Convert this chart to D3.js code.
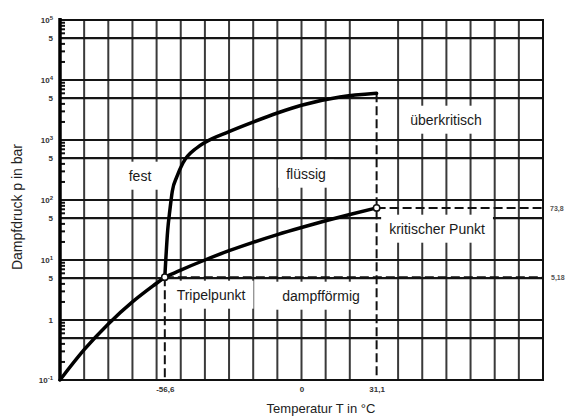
<!DOCTYPE html>
<html>
<head>
<meta charset="utf-8">
<script src="https://cdn.jsdelivr.net/npm/d3@7"></script>
<style>
  body { margin: 0; background: #fff; }
  svg { display: block; font-family: "Liberation Sans", Arial, sans-serif; }
</style>
</head>
<body>
<div id="chart"></div>
<script>
// CO2 phase diagram (Dampfdruck vs Temperatur)

// sublimation curve (fest / dampfförmig)
const sublimTemps = [-100, -90, -80, -70, -60, -56.6];
const sublimPress = [0.1, 0.32, 0.86, 2.0, 4.1, 5.18];

// vapour pressure curve (flüssig / dampfförmig)
const vapTemps = [-56.6, -50, -40, -30, -20, -10, 0, 10, 20, 31.1];
const vapPress = [5.18, 6.8, 10, 14.3, 19.7, 26.5, 34.8, 45, 57.3, 73.8];

// melting curve (fest / flüssig)
const meltTemps = [-56.6, -55.4, -54.5, -53.5, -51.6, -49.1, -43.4, -40, -30, -20, -10, 0, 15.9, 31.1];
const meltPress = [5.18, 31.6, 68, 140, 245, 414, 736, 912, 1380, 1995, 2820, 3800, 5210, 6000];

const triplePoint = [-56.6, 5.18];
const criticalPoint = [31.1, 73.8];

const tempTicks = [-56.6, 0, 31.1];
const tempTickLabels = ['-56,6', '0', '31,1'];

const pressGrid = [0.1, 0.5, 1, 5, 10, 50, 100, 500, 1000, 5000, 10000, 50000, 100000];
const pressLabels = [['10', '-1'], null, ['1'], ['5'], ['10', '1'], ['5'], ['10', '2'], ['5'],
  ['10', '3'], ['5'], ['10', '4'], ['5'], ['10', '5']];

const tempGrid = [-90, -80, -70, -60, -50, -40, -30, -20, -10, 0, 10, 20, 40, 50, 60, 70, 80, 90];

const regionNames = ['fest', 'flüssig', 'überkritisch', 'kritischer Punkt', 'Tripelpunkt', 'dampfförmig'];

const W = 566;
const H = 417;
const plot = { left: 60, right: 543, top: 20, bottom: 380 };

const svg = d3.select('#chart')
  .append('svg')
  .attr('width', W)
  .attr('height', H);

const x = d3.scaleLinear().domain([-100, 100]).range([plot.left, plot.right]);
const y = d3.scaleLog().domain([0.1, 100000]).range([plot.bottom, plot.top]);

// vertical grid
svg.append('g')
  .selectAll('line')
  .data(tempGrid)
  .join('line')
  .attr('x1', d => x(d)).attr('x2', d => x(d))
  .attr('y1', plot.top).attr('y2', plot.bottom)
  .attr('stroke', '#3a3a3a')
  .attr('stroke-width', 2);

// horizontal grid
svg.append('g')
  .selectAll('line')
  .data(pressGrid)
  .join('line')
  .attr('x1', plot.left).attr('x2', plot.right)
  .attr('y1', d => y(d)).attr('y2', d => y(d))
  .attr('stroke', '#151515')
  .attr('stroke-width', 2.2);

// minor ticks on the left axis
const minor = [];
for (let e = -1; e < 5; e++) {
  [2, 3, 4, 6, 7, 8, 9].forEach(m => minor.push(m * Math.pow(10, e)));
}
svg.append('g')
  .selectAll('line')
  .data(minor)
  .join('line')
  .attr('x1', plot.left).attr('x2', plot.left + 5)
  .attr('y1', d => y(d)).attr('y2', d => y(d))
  .attr('stroke', '#111')
  .attr('stroke-width', 2);

// frame
svg.append('rect')
  .attr('x', plot.left).attr('y', plot.top)
  .attr('width', plot.right - plot.left).attr('height', plot.bottom - plot.top)
  .attr('fill', 'none')
  .attr('stroke', '#111')
  .attr('stroke-width', 2);
svg.append('line')
  .attr('x1', plot.left).attr('x2', plot.left)
  .attr('y1', plot.top - 2).attr('y2', plot.bottom + 1)
  .attr('stroke', '#000')
  .attr('stroke-width', 3.5);

// dashed helper lines
const dash = svg.append('g')
  .attr('stroke', '#111')
  .attr('stroke-width', 2)
  .attr('stroke-dasharray', '9,4');
dash.append('line')
  .attr('x1', x(triplePoint[0])).attr('x2', x(triplePoint[0]))
  .attr('y1', y(triplePoint[1])).attr('y2', plot.bottom);
dash.append('line')
  .attr('x1', x(criticalPoint[0])).attr('x2', x(criticalPoint[0]))
  .attr('y1', y(meltPress[meltPress.length - 1])).attr('y2', plot.bottom);
dash.append('line')
  .attr('x1', x(triplePoint[0])).attr('x2', plot.right)
  .attr('y1', y(triplePoint[1])).attr('y2', y(triplePoint[1]));
dash.append('line')
  .attr('x1', x(criticalPoint[0])).attr('x2', plot.right)
  .attr('y1', y(criticalPoint[1])).attr('y2', y(criticalPoint[1]));

// phase curves
const line = d3.line()
  .x(d => x(d[0]))
  .y(d => y(d[1]))
  .curve(d3.curveMonotoneX);

[[sublimTemps, sublimPress], [vapTemps, vapPress], [meltTemps, meltPress]].forEach(([ts, ps]) => {
  svg.append('path')
    .datum(ts.map((t, i) => [t, ps[i]]))
    .attr('d', line)
    .attr('fill', 'none')
    .attr('stroke', '#000')
    .attr('stroke-width', 3.5)
    .attr('stroke-linecap', 'round')
    .attr('stroke-linejoin', 'round');
});

// points
svg.append('g')
  .selectAll('circle')
  .data([triplePoint, criticalPoint])
  .join('circle')
  .attr('cx', d => x(d[0]))
  .attr('cy', d => y(d[1]))
  .attr('r', 3.2)
  .attr('fill', '#fff')
  .attr('stroke', '#111')
  .attr('stroke-width', 1.5);

// x tick labels
const xAxis = svg.append('g')
  .attr('transform', `translate(0, ${plot.bottom})`)
  .call(d3.axisBottom(x).tickValues(tempTicks).tickSize(0).tickPadding(6)
    .tickFormat((d, i) => tempTickLabels[i]));
xAxis.select('.domain').remove();
xAxis.selectAll('text')
  .attr('font-family', '"Liberation Sans", Arial, sans-serif')
  .attr('font-size', 8)
  .attr('font-weight', 'bold')
  .attr('fill', '#333');

// y tick labels (with superscripts)
const yl = svg.append('g');
pressGrid.forEach((p, i) => {
  const lab = pressLabels[i];
  if (!lab) return;
  const t = yl.append('text')
    .attr('x', 53)
    .attr('y', y(p) + 3)
    .attr('text-anchor', 'end')
    .attr('font-size', 8)
    .attr('font-weight', 'bold')
    .attr('fill', '#333');
  t.append('tspan').text(lab[0]);
  if (lab[1]) {
    t.append('tspan').attr('dy', -3).attr('font-size', 6).text(lab[1]);
  }
});

// right side values
svg.append('text')
  .attr('x', plot.right + 7).attr('y', y(criticalPoint[1]) + 3)
  .attr('font-size', 7).attr('font-weight', 'bold').attr('fill', '#555')
  .text('73,8');
svg.append('text')
  .attr('x', plot.right + 8).attr('y', y(triplePoint[1]) + 3)
  .attr('font-size', 7).attr('font-weight', 'bold').attr('fill', '#555')
  .text('5,18');

// region labels with white boxes
const labelPos = [[140, 177], [306, 175], [446, 121], [437, 230], [211, 296], [321, 297]];
regionNames.forEach((name, i) => {
  const g = svg.append('g');
  const t = g.append('text')
    .attr('x', labelPos[i][0])
    .attr('y', labelPos[i][1])
    .attr('text-anchor', 'middle')
    .attr('dominant-baseline', 'middle')
    .attr('font-size', 14)
    .attr('fill', '#1a1a1a')
    .text(name);
  const bb = t.node().getBBox();
  g.insert('rect', 'text')
    .attr('x', bb.x - 8).attr('y', bb.y - 6)
    .attr('width', bb.width + 16).attr('height', bb.height + 12)
    .attr('fill', '#fff');
});

// axis titles
svg.append('text')
  .attr('transform', 'translate(22, 207) rotate(-90)')
  .attr('text-anchor', 'middle')
  .attr('font-size', 14)
  .attr('fill', '#222')
  .text('Dampfdruck p in bar');

svg.append('text')
  .attr('x', 321).attr('y', 413)
  .attr('text-anchor', 'middle')
  .attr('font-size', 13)
  .attr('fill', '#222')
  .text('Temperatur T in °C');
</script>
</body>
</html>
